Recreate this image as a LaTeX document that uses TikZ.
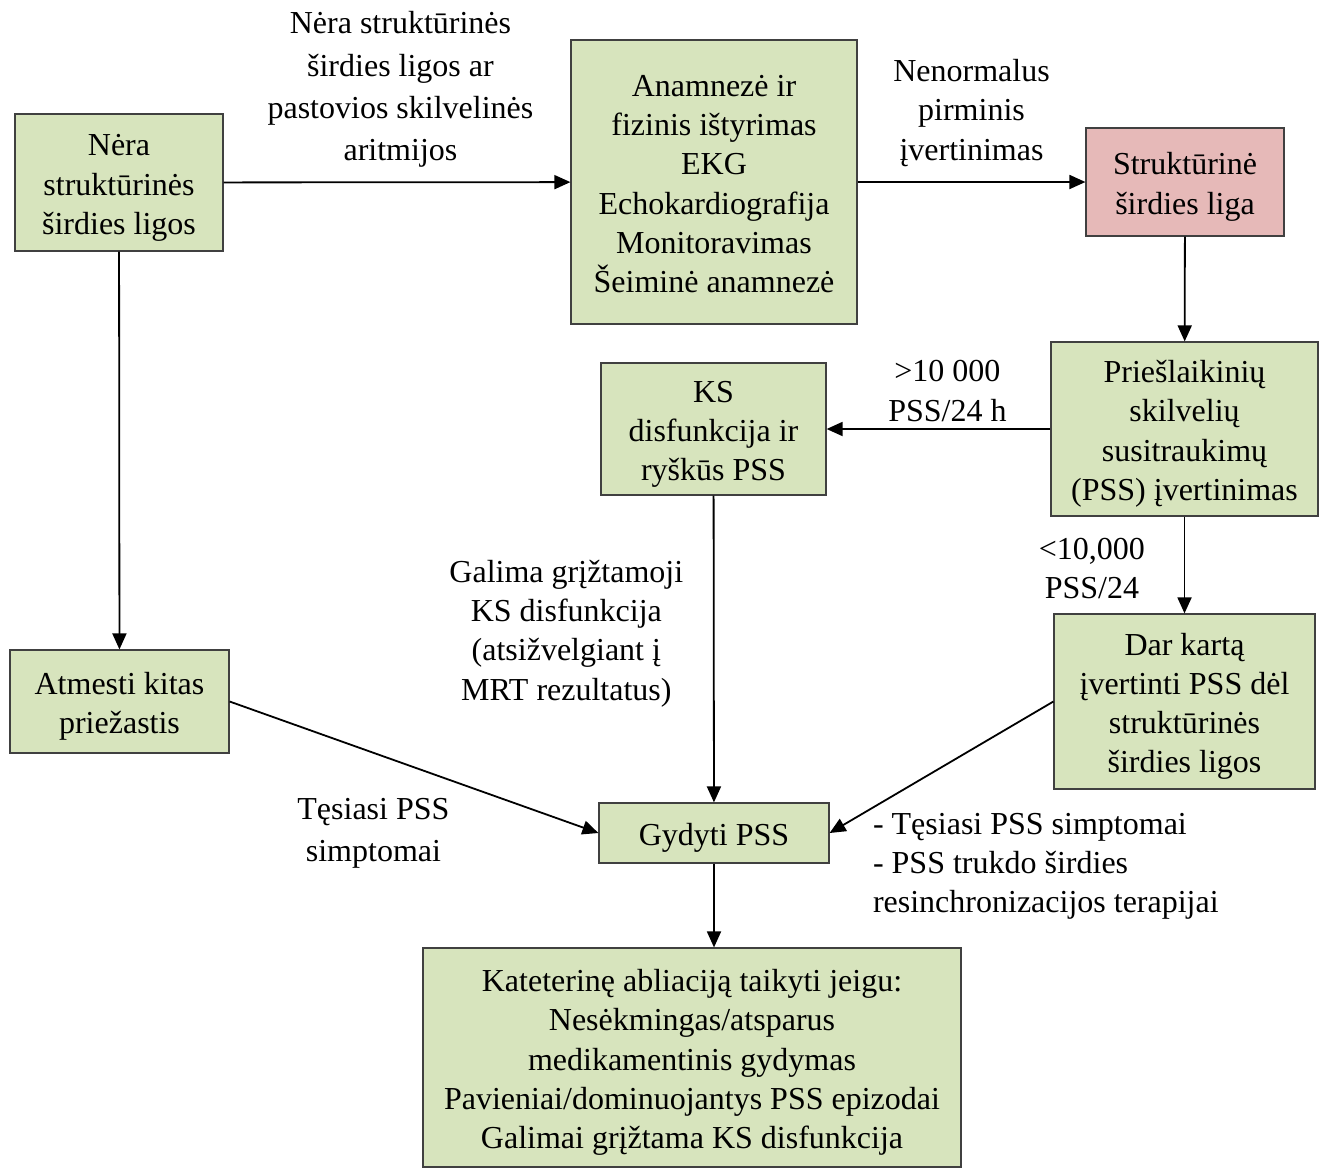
\documentclass[tikz,border=0pt]{standalone}
\usepackage{fontspec}
\setmainfont{Liberation Serif}
\usetikzlibrary{arrows.meta}
\definecolor{boxgreen}{HTML}{D7E4BD}
\definecolor{boxpink}{HTML}{E6B9B8}
\begin{document}
\begin{tikzpicture}[x=0.5pt, y=-0.5pt,
    font=\fontsize{16}{19.6}\selectfont,
    >={Triangle[length=8pt,width=7pt]},
    box/.style={draw=black!75, line width=0.6pt, fill=boxgreen, align=flush center, inner sep=0pt,
        text width=#1, minimum width=#1,
        execute at begin node={\rule{0pt}{19.5pt}}, execute at end node={\rule[-7pt]{0pt}{0pt}}},
    redbox/.style={box=#1, fill=boxpink},
    lbl/.style={align=center},
    widelbl/.style={align=center, font=\fontsize{16}{21.2}\selectfont},
    every edge/.style={draw, line width=0.9pt}]
    \useasboundingbox (0,0) rectangle (1320,1167);

    \node (nostr) [box=104pt, minimum height=68.5pt] at (119,182.5) {Nėra\\struktūrinės\\širdies ligos};
    \node (exam) [box=143pt, minimum height=142pt] at (714,182) {Anamnezė ir\\fizinis ištyrimas\\EKG\\Echokardiografija\\Monitoravimas\\Šeiminė anamnezė};
    \node (strd) [redbox=99pt, minimum height=54pt] at (1185,182) {Struktūrinė\\širdies liga};
    \node (pvcs) [box=133.5pt, minimum height=87pt] at (1184.5,429) {Priešlaikinių\\skilvelių\\susitraukimų\\(PSS) įvertinimas};
    \node (ksdys) [box=112.5pt, minimum height=66pt] at (713.5,429) {KS\\disfunkcija ir\\ryškūs PSS};
    \node (excl) [box=109.5pt, minimum height=51.5pt] at (119.5,701.5) {Atmesti kitas\\priežastis};
    \node (reev) [box=130.5pt, minimum height=87.5pt] at (1184.5,701.5) {Dar kartą\\įvertinti PSS dėl\\struktūrinės\\širdies ligos};
    \node (treat) [box=115pt, minimum height=30pt] at (714,833) {Gydyti PSS};
    \node (abl) [box=269pt, minimum height=109.5pt] at (692,1057.5) {Kateterinę abliaciją taikyti jeigu:\\Nesėkmingas/atsparus\\medikamentinis gydymas\\Pavieniai/dominuojantys PSS epizodai\\Galimai grįžtama KS disfunkcija};

    \path[->] (nostr) edge node[widelbl, pos=0.51, above=3.5pt]{Nėra struktūrinės\\širdies ligos ar\\pastovios skilvelinės\\aritmijos} (exam);
    \path[->] (exam) edge node[lbl, above=4pt]{Nenormalus\\pirminis\\įvertinimas} (strd);
    \path[->] (strd) edge (pvcs);
    \path[->] (pvcs) edge node[lbl, pos=0.46, above=0pt]{>10 000\\PSS/24 h} (ksdys);
    \path[->] (nostr) edge (excl);
    \path[->] (pvcs) edge node[lbl, pos=0.54, left=16pt]{<10,000\\PSS/24} (reev);
    \path[->] (ksdys) edge node[lbl, pos=0.45, left=11.5pt]{Galima grįžtamoji\\KS disfunkcija\\(atsižvelgiant į\\MRT rezultatus)} (treat);
    \path[->] (excl.east) edge node[widelbl, pos=0.39, below=19pt]{Tęsiasi PSS\\simptomai} (treat.west);
    \path[->] (reev.west) edge node[align=left, pos=0.81, anchor=north west, inner sep=0pt, yshift=-2pt]{- Tęsiasi PSS simptomai\\- PSS trukdo širdies\\resinchronizacijos terapijai} (treat.east);
    \path[->] (treat.south) edge (treat.south |- abl.north);
\end{tikzpicture}
\end{document}
